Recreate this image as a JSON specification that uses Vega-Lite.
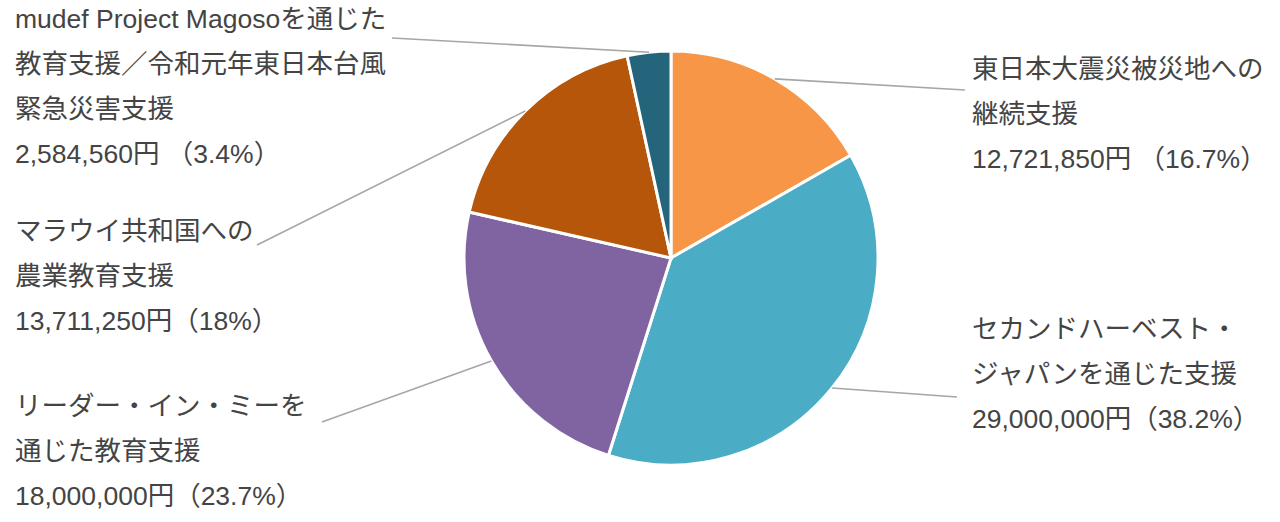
{
  "$schema": "https://vega.github.io/schema/vega-lite/v6.json",
  "width": 1218,
  "height": 516,
  "autosize": {"type": "none"},
  "padding": {"left": 62, "top": 0, "right": 0, "bottom": 6},
  "background": "white",
  "config": {"view": {"stroke": null}},
  "data": {
    "values": [
      {"n": 1, "category": "東日本大震災被災地への継続支援", "value": 12721850, "label": "東日本大震災被災地への\n継続支援\n12,721,850円 （16.7%）"},
      {"n": 2, "category": "セカンドハーベスト・ジャパンを通じた支援", "value": 29000000, "label": "セカンドハーベスト・\nジャパンを通じた支援\n29,000,000円（38.2%）"},
      {"n": 3, "category": "リーダー・イン・ミーを通じた教育支援", "value": 18000000, "label": "リーダー・イン・ミーを\n通じた教育支援\n18,000,000円（23.7%）"},
      {"n": 4, "category": "マラウイ共和国への農業教育支援", "value": 13711250, "label": "マラウイ共和国への\n農業教育支援\n13,711,250円（18%）"},
      {"n": 5, "category": "mudef Project Magosoを通じた教育支援／令和元年東日本台風緊急災害支援", "value": 2584560, "label": "mudef Project Magosoを通じた\n教育支援／令和元年東日本台風\n緊急災害支援\n2,584,560円 （3.4%）"}
    ]
  },
  "layer": [
    {
      "mark": {"type": "arc", "outerRadius": 207, "stroke": "white", "strokeWidth": 3},
      "encoding": {
        "theta": {"field": "value", "type": "quantitative", "stack": true},
        "order": {"field": "n", "type": "quantitative"},
        "color": {
          "field": "category",
          "type": "nominal",
          "scale": {
            "domain": ["東日本大震災被災地への継続支援", "セカンドハーベスト・ジャパンを通じた支援", "リーダー・イン・ミーを通じた教育支援", "マラウイ共和国への農業教育支援", "mudef Project Magosoを通じた教育支援／令和元年東日本台風緊急災害支援"],
            "range": ["#F79646", "#4BACC6", "#8064A2", "#B5560A", "#24657B"]
          },
          "legend": null
        }
      }
    },
    {
      "mark": {"type": "arc", "filled": false, "fill": null, "stroke": "#A6A6A6", "strokeWidth": 1.6, "innerRadius": 0},
      "encoding": {
        "x": {"field": "n", "type": "quantitative", "axis": null, "scale": {"domain": [1, 2, 3, 4, 5], "range": [712.8, 770.1, 429.4, 463.4, 587.0], "nice": false, "zero": false}},
        "y": {"field": "n", "type": "quantitative", "axis": null, "scale": {"domain": [1, 2, 3, 4, 5], "range": [78.9, 388.0, 360.9, 110.9, 52.2], "nice": false, "zero": false}},
        "theta": {"field": "n", "type": "quantitative", "stack": null, "scale": {"domain": [1, 2, 3, 4, 5], "range": [1.6291, 1.6427, 4.3663, 4.2489, 4.7676], "nice": false, "zero": false}},
        "theta2": {"field": "n"},
        "radius": {"field": "n", "type": "quantitative", "scale": {"type": "linear", "domain": [1, 2, 3, 4, 5], "range": [190.5, 125.2, 180.1, 300.0, 257.4], "nice": false, "zero": false}}
      }
    },
    {
      "mark": {"type": "text", "align": "left", "baseline": "bottom", "lineBreak": "\n", "fontSize": 26.5, "lineHeight": 45, "font": "Liberation Sans, Noto Sans CJK JP", "color": "#444444"},
      "encoding": {
        "text": {"field": "label", "type": "nominal"},
        "x": {"field": "n", "type": "quantitative", "axis": null, "scale": {"domain": [1, 2, 3, 4, 5], "range": [910, 910, -47, -47, -47], "nice": false, "zero": false}},
        "y": {"field": "n", "type": "quantitative", "axis": null, "scale": {"domain": [1, 2, 3, 4, 5], "range": [84, 344, 421, 246, 34], "nice": false, "zero": false}}
      }
    }
  ],
  "resolve": {"scale": {"x": "independent", "y": "independent", "theta": "independent", "radius": "independent"}}
}
